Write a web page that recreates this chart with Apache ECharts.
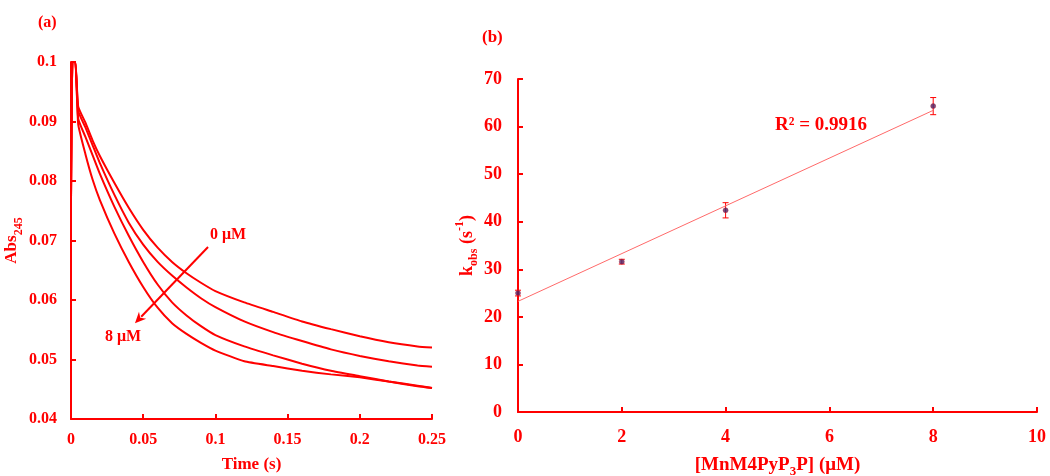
<!DOCTYPE html>
<html><head><meta charset="utf-8">
<script src="https://cdn.jsdelivr.net/npm/echarts@6/dist/echarts.min.js"></script>
<style>html,body{margin:0;padding:0;background:#fff}#c{width:1050px;height:476px}</style>
</head><body><div id="c"></div>
<script>
// ---- Panel (a): absorbance traces ----
const times    = [0, 0.001, 0.003, 0.005, 0.01, 0.015, 0.02, 0.03, 0.04, 0.05, 0.06, 0.07, 0.08, 0.09, 0.1, 0.12, 0.14, 0.16, 0.18, 0.2, 0.22, 0.24, 0.25];
const abs_0uM  = [0.077, 0.1, 0.1, 0.0925, 0.0898, 0.0868, 0.0842, 0.0797, 0.0755, 0.0718, 0.0688, 0.0664, 0.0645, 0.0629, 0.0615, 0.0596, 0.0580, 0.0564, 0.0551, 0.0539, 0.0529, 0.0522, 0.0520];
const abs_2uM  = [0.077, 0.1, 0.1, 0.0918, 0.0890, 0.0860, 0.0830, 0.0777, 0.0730, 0.0693, 0.0664, 0.0641, 0.0621, 0.0603, 0.0588, 0.0564, 0.0546, 0.0531, 0.0517, 0.0506, 0.0497, 0.0490, 0.0488];
const abs_4uM  = [0.077, 0.1, 0.1, 0.0905, 0.0874, 0.0843, 0.0812, 0.0757, 0.0708, 0.0664, 0.0626, 0.0596, 0.0574, 0.0556, 0.0541, 0.0522, 0.0507, 0.0493, 0.0481, 0.0472, 0.0463, 0.0455, 0.0452];
const abs_8uM  = [0.077, 0.1, 0.1, 0.0895, 0.0845, 0.0802, 0.0768, 0.0712, 0.0664, 0.0622, 0.0587, 0.0561, 0.0543, 0.0528, 0.0515, 0.0497, 0.0489, 0.0481, 0.0475, 0.0470, 0.0463, 0.0456, 0.0452];
const timeTicks = [0, 0.25, 0.05];      // min, max, interval
const absTicks  = [0.04, 0.1, 0.01];
const arrowFrom = [0.0949, 0.0689];
const arrowTo   = [0.0443, 0.0561];

// ---- Panel (b): kobs vs concentration ----
const concUM  = [0, 2, 4, 8];
const kobs    = [25.0, 31.6, 42.4, 64.3];
const kobsErr = [0.6, 0.5, 1.6, 1.8];
const concTicks = [0, 10, 2];
const kTicks    = [0, 70, 10];

// least-squares trend line (as drawn by the spreadsheet)
const n = concUM.length;
const mx = concUM.reduce((a,b)=>a+b,0)/n, my = kobs.reduce((a,b)=>a+b,0)/n;
let sxy=0, sxx=0;
for (let i=0;i<n;i++){ sxy+=(concUM[i]-mx)*(kobs[i]-my); sxx+=(concUM[i]-mx)**2; }
const slope = sxy/sxx, icpt = my - slope*mx;
const fitX = [0, 8];

const RED = '#ff0000';
const FONT = '"Liberation Serif", "Times New Roman", serif';
const chart = echarts.init(document.getElementById('c'), null, {renderer:'canvas'});

function axisCommon(fs){
  return {
    axisLine:{show:true, lineStyle:{color:RED, width:2}},
    axisTick:{show:true, inside:true, length:5, lineStyle:{color:RED, width:2}},
    splitLine:{show:false},
    axisLabel:{color:RED, fontFamily:FONT, fontWeight:'bold', fontSize:fs},
    nameTextStyle:{color:RED, fontFamily:FONT, fontWeight:'bold'}
  };
}
const trimNum = v => String(+(+v).toFixed(3));
const lineSeries = (arr) => ({
  type:'line', xAxisIndex:0, yAxisIndex:0, showSymbol:false, symbol:'none',
  smooth:0.15,
  data: times.map((t,i)=>[t, arr[i]]),
  lineStyle:{color:RED, width:2}, itemStyle:{color:RED}, silent:true
});

const subRich = (fs) => ({
  n:{fontSize:fs, fontFamily:FONT, fontWeight:'bold', color:RED, lineHeight:26, verticalAlign:'middle'},
  sub:{fontSize:Math.round(fs*0.68), fontFamily:FONT, fontWeight:'bold', color:RED, verticalAlign:'bottom'},
  sup:{fontSize:Math.round(fs*0.68), fontFamily:FONT, fontWeight:'bold', color:RED, verticalAlign:'top'}
});

const option = {
  animation:false,
  backgroundColor:'#fff',
  grid:[
    {left:71, top:62, width:361, height:357, outerBoundsMode:'none', containLabel:false},
    {left:518, top:79, width:519, height:333, outerBoundsMode:'none', containLabel:false}
  ],
  xAxis:[
    Object.assign(axisCommon(16), {
      gridIndex:0, type:'value', min:timeTicks[0], max:timeTicks[1], interval:timeTicks[2],
      name:'Time (s)', nameLocation:'middle', nameGap:37,
      nameTextStyle:{color:RED, fontFamily:FONT, fontWeight:'bold', fontSize:17},
      axisLabel:{color:RED, fontFamily:FONT, fontWeight:'bold', fontSize:16, margin:13, formatter:trimNum}
    }),
    Object.assign(axisCommon(18), {
      gridIndex:1, type:'value', min:concTicks[0], max:concTicks[1], interval:concTicks[2],
      name:'{n|[MnM4PyP}{sub|3}{n|P] (μM)}', nameLocation:'middle', nameGap:40,
      nameTextStyle:{rich:subRich(19)},
      axisLabel:{color:RED, fontFamily:FONT, fontWeight:'bold', fontSize:18, margin:16}
    })
  ],
  yAxis:[
    Object.assign(axisCommon(16), {
      gridIndex:0, type:'value', min:absTicks[0], max:absTicks[1], interval:absTicks[2],
      name:'{n|Abs}{sub|245}', nameLocation:'middle', nameGap:44, nameRotate:90,
      nameTextStyle:{rich:subRich(17)},
      axisLabel:{color:RED, fontFamily:FONT, fontWeight:'bold', fontSize:16, margin:14, formatter:trimNum}
    }),
    Object.assign(axisCommon(18), {
      gridIndex:1, type:'value', min:kTicks[0], max:kTicks[1], interval:kTicks[2],
      name:'{n|k}{sub|obs}{n| (s}{sup|-1}{n|)}', nameLocation:'middle', nameGap:38, nameRotate:90,
      nameTextStyle:{rich:subRich(18)},
      axisLabel:{color:RED, fontFamily:FONT, fontWeight:'bold', fontSize:18, margin:16}
    })
  ],
  series:[
    lineSeries(abs_0uM), lineSeries(abs_2uM), lineSeries(abs_4uM), lineSeries(abs_8uM),
    {
      // annotation arrow (0 µM -> 8 µM)
      type:'custom', xAxisIndex:0, yAxisIndex:0, silent:true, z:4,
      data:[[arrowFrom[0], arrowFrom[1], arrowTo[0], arrowTo[1]]],
      renderItem:(params, api)=>{
        const a=api.coord([api.value(0), api.value(1)]), b=api.coord([api.value(2), api.value(3)]);
        const dx=b[0]-a[0], dy=b[1]-a[1], L=Math.hypot(dx,dy), ux=dx/L, uy=dy/L;
        const hl=11, hw=5;
        const bx=b[0]-ux*hl, by=b[1]-uy*hl;
        return {type:'group', children:[
          {type:'line', shape:{x1:a[0],y1:a[1],x2:bx+ux*2,y2:by+uy*2}, style:{stroke:RED, lineWidth:2}},
          {type:'polygon', shape:{points:[[b[0],b[1]],[bx-uy*hw, by+ux*hw],[b[0]-ux*hl*0.7, b[1]-uy*hl*0.7],[bx+uy*hw, by-ux*hw]]}, style:{fill:RED}}
        ]};
      }
    },
    {
      type:'line', xAxisIndex:1, yAxisIndex:1, showSymbol:false, symbol:'none', silent:true,
      data: fitX.map(x=>[x, icpt + slope*x]),
      lineStyle:{color:'#ff6a6a', width:1}
    },
    {
      type:'custom', xAxisIndex:1, yAxisIndex:1, silent:true,
      data: concUM.map((x,i)=>[x, kobs[i], kobsErr[i]]),
      renderItem:(params, api)=>{
        const x=api.value(0), y=api.value(1), e=api.value(2);
        const t=api.coord([x, y+e]), b=api.coord([x, y-e]);
        const w=3, st={stroke:RED, lineWidth:1};
        return {type:'group', children:[
          {type:'line', shape:{x1:t[0],y1:t[1],x2:b[0],y2:b[1]}, style:st},
          {type:'line', shape:{x1:t[0]-w,y1:t[1],x2:t[0]+w,y2:t[1]}, style:st},
          {type:'line', shape:{x1:b[0]-w,y1:b[1],x2:b[0]+w,y2:b[1]}, style:st}
        ]};
      }
    },
    {
      type:'scatter', xAxisIndex:1, yAxisIndex:1, silent:true, z:5,
      data: concUM.map((x,i)=>[x, kobs[i]]),
      symbol:'circle', symbolSize:5,
      itemStyle:{color:'#4a2366', borderColor:'#b0203a', borderWidth:0.6}
    }
  ],
  graphic:[
    {type:'text', left:38, top:15, style:{text:'(a)', fill:RED, fontFamily:FONT, fontWeight:'bold', fontSize:16}},
    {type:'text', left:482, top:29, style:{text:'(b)', fill:RED, fontFamily:FONT, fontWeight:'bold', fontSize:17}},
    {type:'text', x:228, y:235, style:{text:'0 μM', fill:RED, fontFamily:FONT, fontWeight:'bold', fontSize:16, align:'center', verticalAlign:'middle'}},
    {type:'text', x:123, y:337, style:{text:'8 μM', fill:RED, fontFamily:FONT, fontWeight:'bold', fontSize:16, align:'center', verticalAlign:'middle'}},
    {type:'text', x:821, y:125, style:{text:'R² = 0.9916', fill:RED, fontFamily:FONT, fontWeight:'bold', fontSize:19, align:'center', verticalAlign:'middle'}}
  ]
};
chart.setOption(option);
</script>
</body></html>
